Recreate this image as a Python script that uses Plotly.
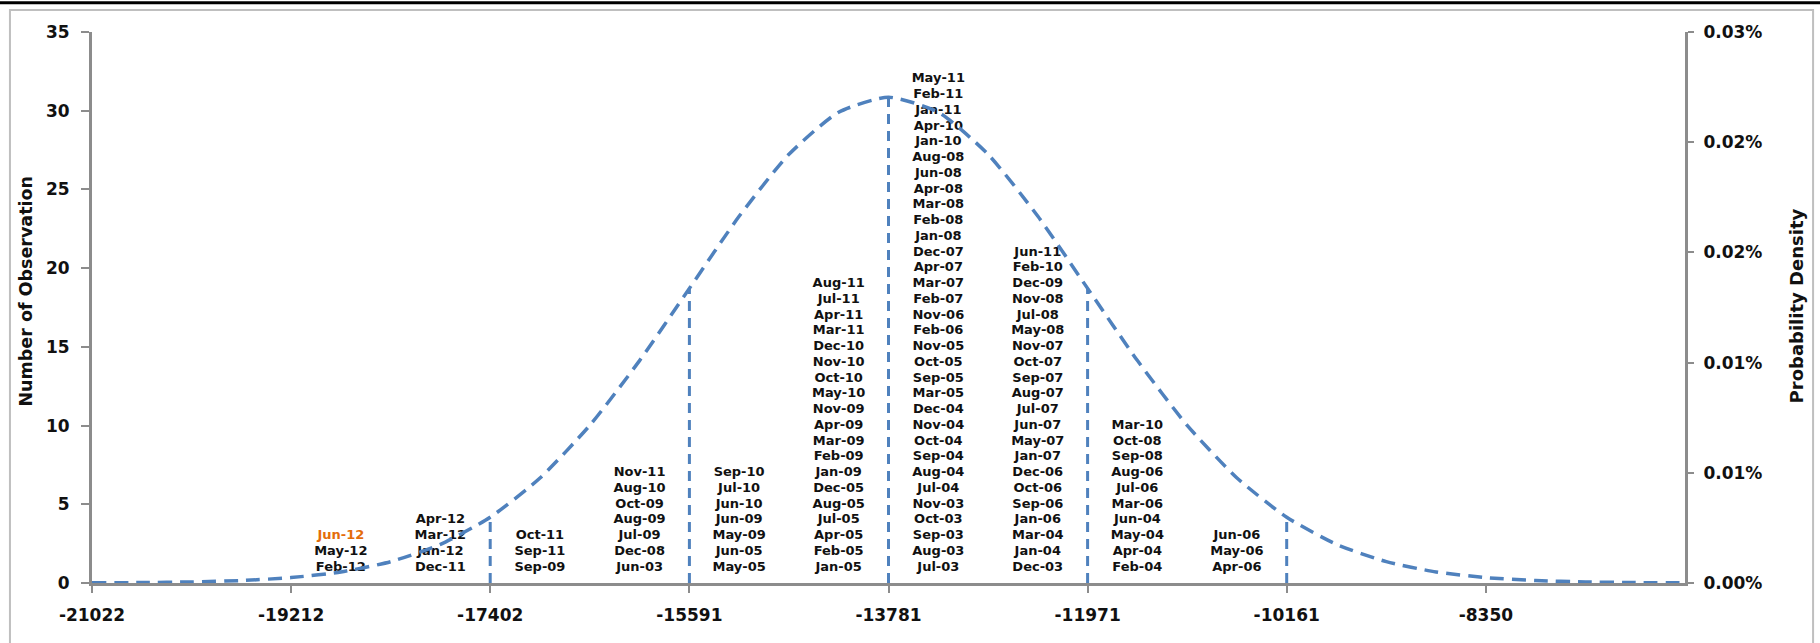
import plotly.graph_objects as go

# ---------------- data ----------------
x_tick_vals = [-21022, -19212, -17402, -15591, -13781, -11971, -10161, -8350]
x_tick_text = ["-21022", "-19212", "-17402", "-15591", "-13781", "-11971", "-10161", "-8350"]

y_tick_vals = [0, 5, 10, 15, 20, 25, 30, 35]
y2_tick_vals = [0, 0.00005, 0.0001, 0.00015, 0.0002, 0.00025]
y2_tick_text = ["0.00%", "0.01%", "0.01%", "0.02%", "0.02%", "0.03%"]

# histogram bins (centre of each bin) and the months falling in each (bottom -> top)
bin_centers = [-18760, -17855, -16950, -16044, -15139, -14234, -13328, -12424, -11519, -10614]
bin_months = [
    ["Feb-12", "May-12", "Jun-12"],
    ["Dec-11", "Jan-12", "Mar-12", "Apr-12"],
    ["Sep-09", "Sep-11", "Oct-11"],
    ["Jun-03", "Dec-08", "Jul-09", "Aug-09", "Oct-09", "Aug-10", "Nov-11"],
    ["May-05", "Jun-05", "May-09", "Jun-09", "Jun-10", "Jul-10", "Sep-10"],
    ["Jan-05", "Feb-05", "Apr-05", "Jul-05", "Aug-05", "Dec-05", "Jan-09", "Feb-09",
     "Mar-09", "Apr-09", "Nov-09", "May-10", "Oct-10", "Nov-10", "Dec-10", "Mar-11",
     "Apr-11", "Jul-11", "Aug-11"],
    ["Jul-03", "Aug-03", "Sep-03", "Oct-03", "Nov-03", "Jul-04", "Aug-04", "Sep-04",
     "Oct-04", "Nov-04", "Dec-04", "Mar-05", "Sep-05", "Oct-05", "Nov-05", "Feb-06",
     "Nov-06", "Feb-07", "Mar-07", "Apr-07", "Dec-07", "Jan-08", "Feb-08", "Mar-08",
     "Apr-08", "Jun-08", "Aug-08", "Jan-10", "Apr-10", "Jan-11", "Feb-11", "May-11"],
    ["Dec-03", "Jan-04", "Mar-04", "Jan-06", "Sep-06", "Oct-06", "Dec-06", "Jan-07",
     "May-07", "Jun-07", "Jul-07", "Aug-07", "Sep-07", "Oct-07", "Nov-07", "May-08",
     "Jul-08", "Nov-08", "Dec-09", "Feb-10", "Jun-11"],
    ["Feb-04", "Apr-04", "May-04", "Jun-04", "Mar-06", "Jul-06", "Aug-06", "Sep-08",
     "Oct-08", "Mar-10"],
    ["Apr-06", "May-06", "Jun-06"],
]
highlight_month = "Jun-12"

# probability density curve
curve_x = [-21022, -20569, -20117, -19664, -19212, -18759, -18307, -17854, -17402,
           -16949, -16496, -16044, -15591, -15139, -14686, -14234, -13781,
           -13328, -12876, -12423, -11971, -11518, -11066, -10613, -10161,
           -9708, -9255, -8803, -8350, -7898, -7445, -6993, -6540]
curve_density = [0.07e-6, 0.19e-6, 0.48e-6, 1.12e-6, 2.45e-6, 5.02e-6, 9.68e-6, 17.53e-6, 29.83e-6,
                 47.66e-6, 71.55e-6, 100.91e-6, 133.68e-6, 166.37e-6, 194.50e-6, 213.62e-6, 220.40e-6,
                 213.62e-6, 194.50e-6, 166.37e-6, 133.68e-6, 100.91e-6, 71.55e-6, 47.66e-6, 29.83e-6,
                 17.53e-6, 9.68e-6, 5.02e-6, 2.45e-6, 1.12e-6, 0.48e-6, 0.19e-6, 0.07e-6]
sigma_lines = [-17402, -15591, -13781, -11971, -10161]

y_title = "Number of Observation"
y2_title = "Probability Density"

# ---------------- figure ----------------
BLUE = "#4F81BD"
AXIS = "#8C8C8C"
FONT = "DejaVu Sans"
TXT = "#111111"

fig = go.Figure()

# density curve
fig.add_trace(go.Scatter(
    x=curve_x, y=curve_density, yaxis="y2", mode="lines",
    line=dict(color=BLUE, width=3.5, dash="14px,8px", shape="spline", smoothing=0.6),
    hoverinfo="skip", showlegend=False))

# vertical sigma lines from 0 up to the curve
density_at = dict(zip(curve_x, curve_density))
for sx in sigma_lines:
    fig.add_trace(go.Scatter(
        x=[sx, sx], y=[0, density_at[sx]], yaxis="y2", mode="lines",
        line=dict(color=BLUE, width=3, dash="10px,7px"),
        hoverinfo="skip", showlegend=False))

# stacked month labels
tx, ty, tt, tc = [], [], [], []
for cx, months in zip(bin_centers, bin_months):
    for k, m in enumerate(months, start=1):
        tx.append(cx)
        ty.append(k)
        tt.append(m)
        tc.append("#E46C0A" if m == highlight_month else TXT)
fig.add_trace(go.Scatter(
    x=tx, y=ty, text=tt, mode="text", textposition="middle center",
    textfont=dict(family=FONT, size=13, color=tc, weight="bold"),
    hoverinfo="skip", showlegend=False))

tickfont = dict(family=FONT, size=17, color=TXT, weight="bold")

fig.update_layout(
    width=1820, height=643, autosize=False,
    margin=dict(l=92, r=135, t=32, b=60),
    paper_bgcolor="white", plot_bgcolor="white",
    font=dict(family=FONT, size=14, color=TXT, weight="bold"),
    xaxis=dict(
        range=[-21022, -6540], tickmode="array", tickvals=x_tick_vals, ticktext=x_tick_text,
        showgrid=False, zeroline=False, showline=True, linecolor=AXIS, linewidth=3,
        ticks="outside", ticklen=7, tickcolor=AXIS, tickwidth=1.5,
        ticklabelstandoff=8, tickfont=tickfont),
    yaxis=dict(
        range=[0, 35], tickmode="array", tickvals=y_tick_vals,
        showgrid=False, zeroline=False, showline=True, linecolor=AXIS, linewidth=3,
        ticks="outside", ticklen=8, tickcolor=AXIS, tickwidth=1.5,
        ticklabelstandoff=8, tickfont=tickfont),
    yaxis2=dict(
        range=[0, 0.00025], overlaying="y", side="right", tickmode="array",
        tickvals=y2_tick_vals, ticktext=y2_tick_text,
        showgrid=False, zeroline=False, showline=True, linecolor=AXIS, linewidth=3,
        ticks="outside", ticklen=6, tickcolor=AXIS, tickwidth=1.5,
        ticklabelstandoff=6, tickfont=tickfont),
    annotations=[
        dict(text=y_title, xref="paper", yref="paper", x=-0.0417, y=0.53,
             xanchor="center", yanchor="middle", textangle=-90, showarrow=False,
             font=dict(family=FONT, size=17.5, color=TXT, weight="bold")),
        dict(text=y2_title, xref="paper", yref="paper", x=1.0697, y=0.502,
             xanchor="center", yanchor="middle", textangle=-90, showarrow=False,
             font=dict(family=FONT, size=18, color=TXT, weight="bold")),
    ],
    shapes=[
        dict(type="rect", xref="paper", yref="paper", x0=-0.0515, x1=1.0804, y0=-0.2, y1=1.04,
             line=dict(color="#BFBFBF", width=2), fillcolor="rgba(0,0,0,0)", layer="below"),
        dict(type="line", xref="paper", yref="paper", x0=-0.06, x1=1.09, y0=1.053, y1=1.053,
             line=dict(color="#000000", width=3)),
    ],
)

fig.write_html("out.html", config={"displayModeBar": False},
               post_script="document.body.style.margin='0';")
